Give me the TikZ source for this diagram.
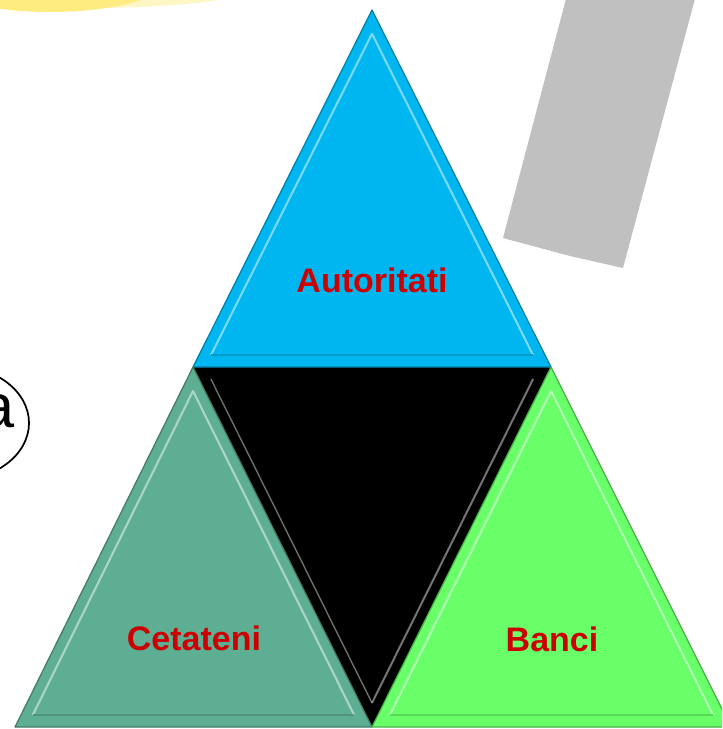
\documentclass[tikz,border=0pt]{standalone}
\usepackage{fontspec}
\setmainfont{Liberation Sans}
\usetikzlibrary{calc}
\definecolor{autblue}{RGB}{0,182,240}
\definecolor{cetteal}{RGB}{94,174,148}
\definecolor{bangreen}{RGB}{104,255,104}
\definecolor{labred}{RGB}{204,0,0}
\definecolor{rectgray}{RGB}{192,192,192}
\definecolor{blobyellow}{RGB}{255,236,128}
\begin{document}
\begin{tikzpicture}[x=0.75pt,y=-0.75pt,
  lbl/.style={font=\bfseries\fontsize{25.5}{30}\selectfont, text=labred, inner sep=0pt},
  outeredge/.style={draw=#1!70!black, line width=0.9pt, line join=round},
  highlight/.style={draw=#1!45!white, line width=1.6pt, line join=round, opacity=0.85}]
\useasboundingbox (0,0) rectangle (722,729);
\clip (0,0) rectangle (722,729);
\fill[white] (0,0) rectangle (722,729);
% yellow blob (top left)
\fill[blobyellow!45] (90,-22) ellipse [x radius=190, y radius=30];
\fill[blobyellow] (50,-26) ellipse [x radius=125, y radius=38];
% gray rotated rectangle
\fill[rectgray] (503,238) -- (570,256) -- (623,268) -- (700,-20) -- (571,-20) -- cycle;
% ellipse with text
\draw[line width=1.3pt] (-45,423) ellipse [x radius=74, y radius=57];
\node[font=\fontsize{46}{50}\selectfont, anchor=base, inner sep=0pt] (ea) at (-2,427) {a};
% corner points
\coordinate (tA) at (372,10);
\coordinate (tL) at (193,367);
\coordinate (tR) at (551,367);
\coordinate (lB) at (15,727);
\coordinate (mB) at (372,727);
\coordinate (rB) at (731,727);
% centroids
\coordinate (gT) at (372,248);
\coordinate (gL) at (193,607);
\coordinate (gR) at (551,607);
\coordinate (gM) at (372,487);
% black middle triangle
\fill[black] (tL) -- (tR) -- (mB) -- cycle;
\draw[gray!70, line width=1.5pt, opacity=0.7] ($(gM)!0.9!(tR)$) -- ($(gM)!0.9!(mB)$);
\draw[gray!50, line width=1pt, opacity=0.6] ($(gM)!0.9!(tL)$) -- ($(gM)!0.9!(mB)$);
% top triangle
\fill[autblue] (tA) -- (tL) -- (tR) -- cycle;
\draw[highlight=autblue] ($(gT)!0.9!(tR)$) -- ($(gT)!0.9!(tA)$) -- ($(gT)!0.9!(tL)$);
\draw[draw=autblue!85!black, line width=1.2pt] ($(gT)!0.9!(tL)$) -- ($(gT)!0.9!(tR)$);
\draw[outeredge=autblue] (tA) -- (tL) -- (tR) -- cycle;
% left triangle
\fill[cetteal] (tL) -- (lB) -- (mB) -- cycle;
\draw[highlight=cetteal] ($(gL)!0.9!(mB)$) -- ($(gL)!0.9!(tL)$) -- ($(gL)!0.9!(lB)$);
\draw[draw=cetteal!85!black, line width=1.2pt] ($(gL)!0.9!(lB)$) -- ($(gL)!0.9!(mB)$);
\draw[outeredge=cetteal] (tL) -- (lB) -- (mB) -- cycle;
% right triangle
\fill[bangreen] (tR) -- (mB) -- (rB) -- cycle;
\draw[highlight=bangreen] ($(gR)!0.9!(mB)$) -- ($(gR)!0.9!(tR)$) -- ($(gR)!0.9!(rB)$);
\draw[draw=bangreen!85!black, line width=1.2pt] ($(gR)!0.9!(mB)$) -- ($(gR)!0.9!(rB)$);
\draw[outeredge=bangreen] (tR) -- (mB) -- (rB) -- cycle;
% labels
\node[lbl] (aut) at (372,280) {Autoritati};
\node[lbl] (cet) at (194,638) {Cetateni};
\node[lbl] (ban) at (552,639) {Banci};
\end{tikzpicture}
\end{document}
